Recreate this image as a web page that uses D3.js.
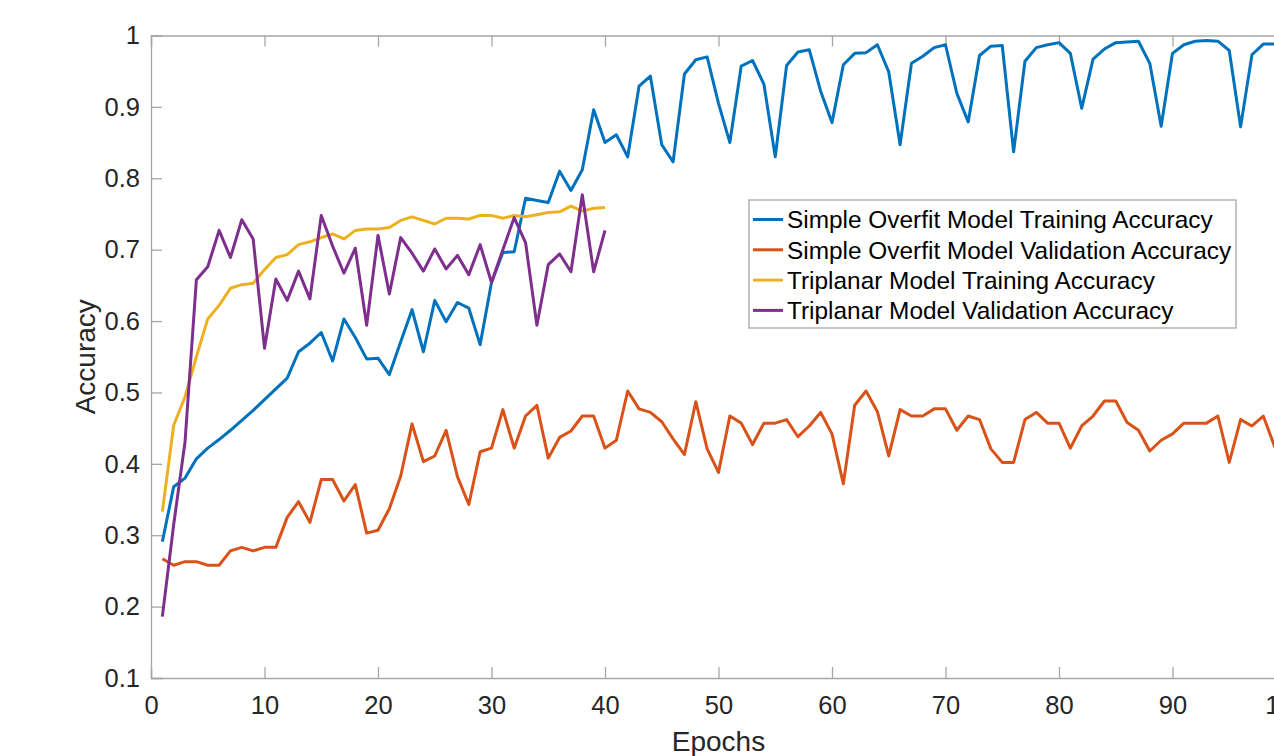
<!DOCTYPE html>
<html>
<head>
<meta charset="utf-8">
<script src="https://cdn.jsdelivr.net/npm/d3@7"></script>
<style>
  body { margin: 0; background: #fff; }
  svg { display: block; font-family: "Liberation Sans", Arial, sans-serif; }
  .tick text { fill: #262626; font-size: 25.5px; }
  .domain, .tick line { stroke: #a6a6a6; stroke-width: 1.3; }
  .line { fill: none; stroke-width: 3; stroke-linejoin: round; }
</style>
</head>
<body>
<div id="graph1"></div>
<script>
var width = 1274, height = 756;
var margin = {top: 35.5, right: 0, bottom: 78, left: 151};

// series names (legend order)
var seriesNames = ["Simple Overfit Model Training Accuracy",
                   "Simple Overfit Model Validation Accuracy",
                   "Triplanar Model Training Accuracy",
                   "Triplanar Model Validation Accuracy"];
var seriesColors = ["#0072BD", "#D95319", "#EDB120", "#7E2F8E"];

// simple overfit model, epochs 1..100
var simpleTrain = [0.291, 0.368, 0.380, 0.407, 0.422, 0.434, 0.447, 0.461, 0.475, 0.490,
                   0.505, 0.520, 0.557, 0.569, 0.584, 0.544, 0.603, 0.577, 0.547, 0.548,
                   0.525, 0.571, 0.616, 0.557, 0.629, 0.599, 0.626, 0.618, 0.567, 0.654,
                   0.696, 0.697, 0.772, 0.769, 0.766, 0.810, 0.783, 0.812, 0.896, 0.850,
                   0.861, 0.830, 0.929, 0.943, 0.847, 0.823, 0.946, 0.966, 0.970, 0.905,
                   0.850, 0.957, 0.965, 0.932, 0.830, 0.958, 0.977, 0.980, 0.922, 0.878,
                   0.959, 0.975, 0.976, 0.987, 0.949, 0.847, 0.961, 0.971, 0.983, 0.987,
                   0.919, 0.879, 0.972, 0.985, 0.986, 0.837, 0.964, 0.983, 0.987, 0.990,
                   0.975, 0.898, 0.967, 0.981, 0.990, 0.991, 0.992, 0.961, 0.873, 0.975,
                   0.987, 0.992, 0.993, 0.992, 0.979, 0.872, 0.973, 0.988, 0.988, 0.988];

var simpleVal = [0.267, 0.258, 0.263, 0.263, 0.258, 0.258, 0.278, 0.283, 0.278, 0.283,
                 0.283, 0.325, 0.347, 0.318, 0.378, 0.378, 0.348, 0.371, 0.303, 0.307,
                 0.337, 0.383, 0.456, 0.403, 0.411, 0.447, 0.382, 0.343, 0.417, 0.422,
                 0.476, 0.422, 0.467, 0.482, 0.408, 0.437, 0.446, 0.467, 0.467, 0.422,
                 0.433, 0.502, 0.477, 0.472, 0.459, 0.435, 0.413, 0.487, 0.421, 0.388,
                 0.467, 0.457, 0.427, 0.457, 0.457, 0.462, 0.438, 0.453, 0.472, 0.442,
                 0.372, 0.482, 0.502, 0.473, 0.411, 0.476, 0.467, 0.467, 0.477, 0.477,
                 0.447, 0.467, 0.462, 0.421, 0.402, 0.402, 0.462, 0.472, 0.457, 0.457,
                 0.422, 0.453, 0.467, 0.488, 0.488, 0.458, 0.447, 0.418, 0.433, 0.442,
                 0.457, 0.457, 0.457, 0.467, 0.402, 0.462, 0.453, 0.467, 0.424, 0.430];

// triplanar model, epochs 1..40
var triTrain = [0.333, 0.454, 0.494, 0.550, 0.603, 0.622, 0.646, 0.651, 0.653, 0.672,
                0.689, 0.693, 0.707, 0.711, 0.717, 0.722, 0.715, 0.727, 0.729, 0.729,
                0.731, 0.741, 0.746, 0.741, 0.736, 0.744, 0.744, 0.743, 0.748, 0.748,
                0.744, 0.748, 0.746, 0.749, 0.752, 0.753, 0.761, 0.754, 0.758, 0.759];

var triVal = [0.186, 0.315, 0.431, 0.658, 0.676, 0.727, 0.689, 0.742, 0.715, 0.562,
              0.659, 0.629, 0.670, 0.631, 0.748, 0.705, 0.667, 0.702, 0.594, 0.720,
              0.638, 0.717, 0.695, 0.670, 0.701, 0.673, 0.692, 0.665, 0.707, 0.654,
              0.700, 0.745, 0.710, 0.594, 0.679, 0.694, 0.669, 0.777, 0.669, 0.727];

var xTicks = [0, 10, 20, 30, 40, 50, 60, 70, 80, 90, 100];
var yTicks = [0.1, 0.2, 0.3, 0.4, 0.5, 0.6, 0.7, 0.8, 0.9, 1];

var x = d3.scaleLinear()
    .domain([0, 100])
    .range([margin.left, 1286]);

var y = d3.scaleLinear()
    .domain([0.1, 1])
    .range([height - margin.bottom, margin.top]);

var svg = d3.select("#graph1").append("svg")
    .attr("width", width)
    .attr("height", height);

// axes box, ticks pointing inwards like matlab
svg.append("g")
    .attr("transform", "translate(0," + y(0.1) + ")")
    .call(d3.axisBottom(x).tickValues(xTicks).tickFormat(d3.format("d")).tickSize(-11).tickPadding(18));

svg.append("g")
    .attr("transform", "translate(0," + y(1) + ")")
    .call(d3.axisTop(x).tickValues(xTicks).tickFormat("").tickSize(-11));

svg.append("g")
    .attr("transform", "translate(" + x(0) + ",0)")
    .call(d3.axisLeft(y).tickValues(yTicks).tickFormat(function(d) { return d3.format("~g")(d); }).tickSize(-11).tickPadding(11));

svg.append("g")
    .attr("transform", "translate(" + x(100) + ",0)")
    .call(d3.axisRight(y).tickValues(yTicks).tickFormat("").tickSize(-11));

svg.selectAll(".domain").attr("stroke", "#a6a6a6");
svg.selectAll(".tick line").attr("stroke", "#a6a6a6");
svg.selectAll(".tick text").attr("font-family", null);

// define the line
var line = d3.line()
    .x(function(d, i) { return x(i + 1); })
    .y(function(d) { return y(d); });

var allSeries = [simpleTrain, simpleVal, triTrain, triVal];

svg.selectAll(".line")
    .data(allSeries)
  .enter().append("path")
    .attr("class", "line")
    .attr("stroke", function(d, i) { return seriesColors[i]; })
    .attr("d", line);

// axis titles
svg.append("text")
    .attr("x", (x(0) + x(100)) / 2)
    .attr("y", 751)
    .attr("text-anchor", "middle")
    .attr("fill", "#262626")
    .style("font-size", "28px")
    .text("Epochs");

svg.append("text")
    .attr("transform", "translate(95," + (y(0.1) + y(1)) / 2 + ") rotate(-90)")
    .attr("text-anchor", "middle")
    .attr("fill", "#262626")
    .style("font-size", "28px")
    .text("Accuracy");

// legend
var legend = svg.append("g")
    .attr("transform", "translate(749,200)");

legend.append("rect")
    .attr("width", 487)
    .attr("height", 128)
    .attr("fill", "#fff")
    .attr("stroke", "#a6a6a6")
    .attr("stroke-width", 1.3);

var item = legend.selectAll(".item")
    .data(seriesNames)
  .enter().append("g")
    .attr("class", "item")
    .attr("transform", function(d, i) { return "translate(0," + (19.5 + i * 30.3) + ")"; });

item.append("line")
    .attr("x1", 4)
    .attr("x2", 34)
    .attr("stroke", function(d, i) { return seriesColors[i]; })
    .attr("stroke-width", 3);

item.append("text")
    .attr("x", 38)
    .attr("dy", "0.36em")
    .attr("fill", "#000")
    .style("font-size", "24.4px")
    .text(function(d) { return d; });
</script>
</body>
</html>
